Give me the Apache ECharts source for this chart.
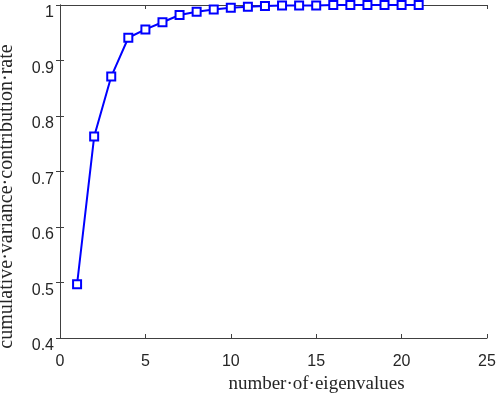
<!DOCTYPE html>
<html>
<head>
<meta charset="utf-8">
<script src="https://cdn.jsdelivr.net/npm/echarts@6/dist/echarts.min.js"></script>
<style>html,body{margin:0;padding:0;background:#fff}#c{width:498px;height:395px}</style>
</head>
<body>
<div id="c"></div>
<script>
const eigenCount = [1,2,3,4,5,6,7,8,9,10,11,12,13,14,15,16,17,18,19,20,21];
const cumulativeRate = [0.497,0.763,0.871,0.941,0.956,0.969,0.982,0.988,0.992,0.995,0.997,0.998,0.999,0.999,0.999,1.0,1.0,1.0,1.0,1.0,1.0];
const xTicks = [0,5,10,15,20,25];
const yTicks = [0.4,0.5,0.6,0.7,0.8,0.9,1];

const chart = echarts.init(document.getElementById('c'));
const axisCol = '#404040';
const lblStyle = {color:'#262626', fontFamily:'Liberation Sans, Arial', fontSize:16};
chart.setOption({
  animation:false,
  grid:{left:60, right:11, top:5, bottom:57, containLabel:false, outerBoundsMode:'none'},
  xAxis:[{
    type:'value', min:0, max:25, interval:5, position:'bottom',
    name:'number·of·eigenvalues', nameLocation:'middle', nameGap:37,
    nameTextStyle:{fontFamily:'Liberation Serif, Times New Roman', fontSize:19, color:'#262626', padding:[0,0,0,86]},
    axisLine:{show:true, lineStyle:{color:axisCol, width:1}},
    axisTick:{show:true, inside:true, length:4, lineStyle:{color:axisCol}},
    axisLabel:Object.assign({margin:16, formatter:v=>xTicks.includes(v)?String(v):''}, lblStyle),
    splitLine:{show:false}
  },{
    type:'value', min:0, max:25, interval:5, position:'top',
    axisLine:{show:true, lineStyle:{color:axisCol, width:1}},
    axisTick:{show:true, inside:true, length:4, lineStyle:{color:axisCol}},
    axisLabel:{show:false}, splitLine:{show:false}
  }],
  yAxis:[{
    type:'value', min:0.4, max:1, interval:0.1, position:'left',
    name:'cumulative·variance·contribution·rate', nameLocation:'middle', nameGap:43,
    nameTextStyle:{fontFamily:'Liberation Serif, Times New Roman', fontSize:20, color:'#262626', padding:[0,50,0,0]},
    axisLine:{show:true, lineStyle:{color:axisCol, width:1}},
    axisTick:{show:true, inside:true, length:4, lineStyle:{color:axisCol}},
    axisLabel:Object.assign({margin:6, verticalAlign:'top', formatter:v=>{const r=Math.round(v*10)/10; return r===1?'1':r.toFixed(1);}}, lblStyle),
    splitLine:{show:false}
  },{
    type:'value', min:0.4, max:1, interval:0.1, position:'right',
    axisLine:{show:true, lineStyle:{color:axisCol, width:1}},
    axisTick:{show:true, inside:true, length:4, lineStyle:{color:axisCol}},
    axisLabel:{show:false}, splitLine:{show:false}
  }],
  series:[{
    type:'line',
    data:eigenCount.map((x,i)=>[x,cumulativeRate[i]]),
    symbol:'emptyRect', symbolSize:8,
    lineStyle:{color:'#0000ff', width:2},
    itemStyle:{color:'#0000ff', borderColor:'#0000ff', borderWidth:2},
    clip:false
  }]
});
</script>
</body>
</html>
